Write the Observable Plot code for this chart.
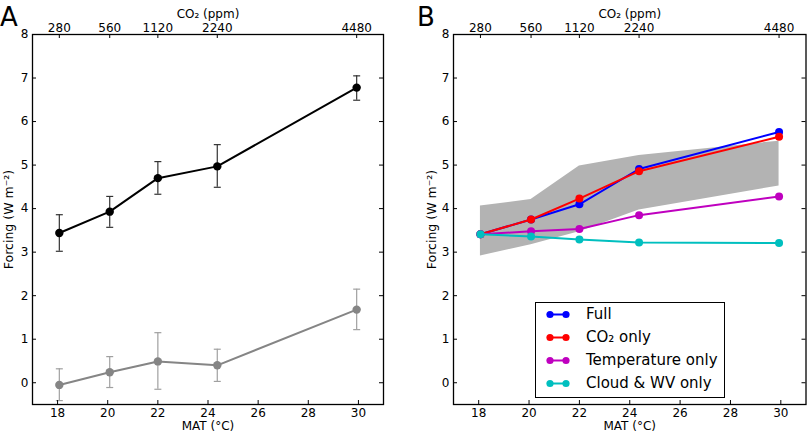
<!DOCTYPE html>
<html><head><meta charset="utf-8">
<script src="https://cdn.jsdelivr.net/npm/d3@7"></script>
<script src="https://cdn.jsdelivr.net/npm/@observablehq/plot@0.6"></script>
<style>
body{margin:0;background:#fff;font-family:"DejaVu Sans",sans-serif;}
#wrap{position:relative;width:807px;height:435px;overflow:hidden;background:#fff;}
#wrap svg.plotsvg{position:absolute;top:0;overflow:visible;}
.letter{position:absolute;font-size:26px;line-height:26px;color:#000;}
.legend{position:absolute;left:535px;top:302px;width:188px;height:94px;border:1px solid #000;background:#fff;}
.legrow{position:absolute;left:0;height:23px;width:188px;font-size:15px;line-height:23px;color:#000;}
.legrow svg{position:absolute;left:8px;top:0;}
.legrow span{position:absolute;left:50px;top:0;white-space:nowrap;}
</style></head><body><div id="wrap"></div>
<script>
// ---- data ----
const mat = [18.07, 20.08, 22.0, 24.37, 29.93];
const co2Labels = ["280", "560", "1120", "2240", "4480"];
const matTicks = [18, 20, 22, 24, 26, 28, 30];
const yTicks = [0, 1, 2, 3, 4, 5, 6, 7, 8];

// Panel A
const totalForcing = [3.44, 3.93, 4.70, 4.97, 6.78];
const totalLo = [3.02, 3.57, 4.33, 4.49, 6.49];
const totalHi = [3.86, 4.28, 5.08, 5.47, 7.05];
const otherForcing = [-0.05, 0.24, 0.49, 0.40, 1.68];
const otherLo = [-0.41, -0.11, -0.15, 0.03, 1.22];
const otherHi = [0.32, 0.60, 1.15, 0.77, 2.15];

// Panel B
const seriesNames = ["Full", "CO₂ only", "Temperature only", "Cloud & WV only"];
const seriesColors = ["#0000ff", "#ff0000", "#bf00bf", "#00bfbf"];
const full = [3.41, 3.75, 4.10, 4.91, 5.76];
const co2Only = [3.41, 3.75, 4.23, 4.86, 5.65];
const tempOnly = [3.41, 3.48, 3.53, 3.85, 4.28];
const cloudOnly = [3.41, 3.36, 3.29, 3.22, 3.21];
const bandLo = [2.91, 3.17, 3.47, 3.97, 4.52];
const bandHi = [4.06, 4.21, 4.98, 5.22, 5.55];

// ---- helpers ----
const idx = mat.map((_, i) => i);
const H = 435, MT = 34, MB = 31;
const FONT = "DejaVu Sans";
const capSymbol = {draw(ctx, size) { const r = Math.sqrt(size / Math.PI); ctx.moveTo(-r, 0); ctx.lineTo(r, 0); }};
const co2Map = new Map(mat.map((m, i) => [m, co2Labels[i]]));

function errBars(vals, lo, hi, color) {
  return [
    Plot.ruleX(idx, {x: i => mat[i], y1: i => lo[i], y2: i => hi[i], stroke: color, strokeWidth: 1.2}),
    Plot.dot(idx, {x: i => mat[i], y: i => lo[i], symbol: capSymbol, r: 3.5, stroke: color, fill: "none", strokeWidth: 1.2}),
    Plot.dot(idx, {x: i => mat[i], y: i => hi[i], symbol: capSymbol, r: 3.5, stroke: color, fill: "none", strokeWidth: 1.2})
  ];
}
function series(vals, color, r = 4.2) {
  return [
    Plot.line(idx, {x: i => mat[i], y: i => vals[i], stroke: color, strokeWidth: 2}),
    Plot.dot(idx, {x: i => mat[i], y: i => vals[i], fill: color, r})
  ];
}

function panel({width, marginLeft, marginRight, ylabelDx, marks}) {
  const fw = width - marginLeft - marginRight, fh = H - MT - MB;
  const svg = Plot.plot({
    width, height: H, marginLeft, marginRight, marginTop: MT, marginBottom: MB,
    x: {domain: [17, 31]},
    y: {domain: [-0.5, 8]},
    style: {fontFamily: FONT, fontSize: "12px", background: "transparent", color: "black", overflow: "visible"},
    marks: [
      ...marks,
      Plot.axisX(matTicks, {tickSize: 0, tickPadding: 4, label: null, fontSize: 12, fill: "black"}),
      Plot.axisX(mat, {anchor: "top", tickSize: 0, tickPadding: 3, label: null, fontSize: 12, fill: "black", tickFormat: d => co2Map.get(d)}),
      Plot.axisY(yTicks, {tickSize: 0, tickPadding: 4, label: null, fontSize: 12, fill: "black"}),
      Plot.tickX(matTicks, {x: d => d, insetTop: fh - 4, stroke: "black", strokeWidth: 1}),
      Plot.tickX(mat, {x: d => d, insetBottom: fh - 4, stroke: "black", strokeWidth: 1}),
      Plot.tickY(yTicks, {y: d => d, insetRight: fw - 4, stroke: "black", strokeWidth: 1}),
      Plot.tickY(yTicks, {y: d => d, insetLeft: fw - 4, stroke: "black", strokeWidth: 1}),
      Plot.frame({stroke: "black", strokeWidth: 1.3}),
      Plot.text(["MAT (°C)"], {text: d => d, frameAnchor: "bottom", dy: 25.5, fontSize: 12, fill: "black"}),
      Plot.text(["CO₂ (ppm)"], {text: d => d, frameAnchor: "top", dy: -25, fontSize: 12, fill: "black"}),
      Plot.text(["Forcing (W m⁻²)"], {text: d => d, frameAnchor: "left", rotate: -90, dx: ylabelDx, fontSize: 12.5, fill: "black", textAnchor: "middle", lineAnchor: "middle"})
    ]
  });
  svg.classList.add("plotsvg");
  return svg;
}

const wrap = document.getElementById("wrap");

const svgA = panel({
  width: 403, marginLeft: 32, marginRight: 20, ylabelDx: -24,
  marks: [
    ...errBars(otherForcing, otherLo, otherHi, "#a0a0a0"),
    ...series(otherForcing, "#858585"),
    ...errBars(totalForcing, totalLo, totalHi, "#333333"),
    ...series(totalForcing, "#000000")
  ]
});
svgA.style.left = "0px";
wrap.appendChild(svgA);

const svgB = panel({
  width: 404, marginLeft: 50, marginRight: 1.5, ylabelDx: -22,
  marks: [
    Plot.areaY(idx, {x: i => mat[i], y1: i => bandLo[i], y2: i => bandHi[i], fill: "#b3b3b3"}),
    ...series(full, seriesColors[0], 4),
    ...series(co2Only, seriesColors[1], 4),
    ...series(tempOnly, seriesColors[2], 4),
    ...series(cloudOnly, seriesColors[3], 4)
  ]
});
svgB.style.left = "403px";
wrap.appendChild(svgB);

// panel letters
for (const [t, left] of [["A", 0], ["B", 417]]) {
  const d = document.createElement("div");
  d.className = "letter"; d.textContent = t;
  d.style.left = left + "px"; d.style.top = "4px";
  wrap.appendChild(d);
}

// legend
const leg = document.createElement("div");
leg.className = "legend";
seriesNames.forEach((name, i) => {
  const row = document.createElement("div");
  row.className = "legrow";
  row.style.top = (i * 23) + "px";
  const s = d3.create("svg").attr("width", 28).attr("height", 23);
  s.append("line").attr("x1", 6).attr("x2", 22).attr("y1", 11.5).attr("y2", 11.5).attr("stroke", seriesColors[i]).attr("stroke-width", 2);
  s.append("circle").attr("cx", 6).attr("cy", 11.5).attr("r", 3.6).attr("fill", seriesColors[i]);
  s.append("circle").attr("cx", 22).attr("cy", 11.5).attr("r", 3.6).attr("fill", seriesColors[i]);
  row.appendChild(s.node());
  const sp = document.createElement("span");
  sp.textContent = name;
  row.appendChild(sp);
  leg.appendChild(row);
});
wrap.appendChild(leg);
</script>
</body></html>
